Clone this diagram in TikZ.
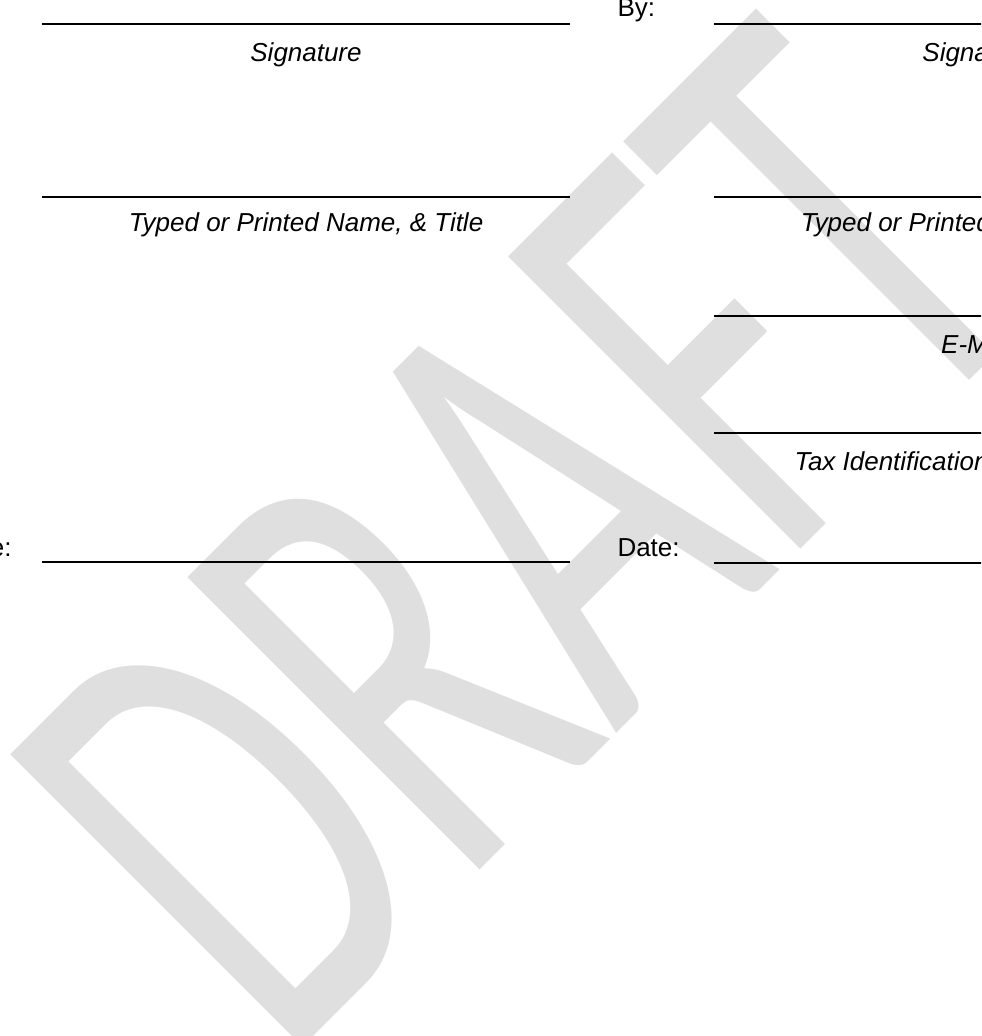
\documentclass[tikz,border=0pt]{standalone}
\usepackage{fontspec}
\setmainfont{Liberation Sans}
\newfontfamily\draftfont{Carlito}
\usepackage{tikz}
\definecolor{draftgray}{RGB}{223,223,223}
\tikzset{sigline/.style={line width=1.1pt, black}}
\tikzset{caption/.style={font=\itshape, inner sep=0pt, anchor=base}}
\tikzset{fieldname/.style={inner sep=0pt, anchor=base west}}

\begin{document}
\begin{tikzpicture}[x=0.385pt, y=-0.385pt]
\useasboundingbox (0,0) rectangle (981,1036);
\clip (0,0) rectangle (981,1036);

% Watermark
\begin{scope}[shift={(283,1067)}, rotate=45, yscale=1.59]
\node[transform shape, anchor=base west, inner sep=0pt, text=draftgray, font=\draftfont\fontsize{156}{156}\selectfont] (draft) at (0,0) {DRAFT};
\end{scope}

% Left column
\draw[sigline] (42,24) -- (570,24);
\draw[sigline] (42,197) -- (570,197);
\draw[sigline] (42,562) -- (570,562);
\node[caption] (sigL) at (306,61.7) {Signature};
\node[caption] (nameL) at (306,231.7) {Typed or Printed Name, \& Title};
\node[fieldname] (dateL) at (-51,556) {Date:};

% Right column
\node[fieldname] (byR) at (617,17) {By:};
\node[fieldname] (dateR) at (617,556) {Date:};
\foreach \y in {24,197,316,433,563}
	\draw[sigline] (714,\y) -- (1242,\y);
\node[caption] (sigR) at (978,61.7) {Signature};
\node[caption] (nameR) at (978,231.7) {Typed or Printed Name, \& Title};
\node[caption] (mailR) at (978,353.3) {E-Mail};
\node[caption, anchor=base west] (taxR) at (794,470) {Tax Identification Number};

\end{tikzpicture}
\end{document}
